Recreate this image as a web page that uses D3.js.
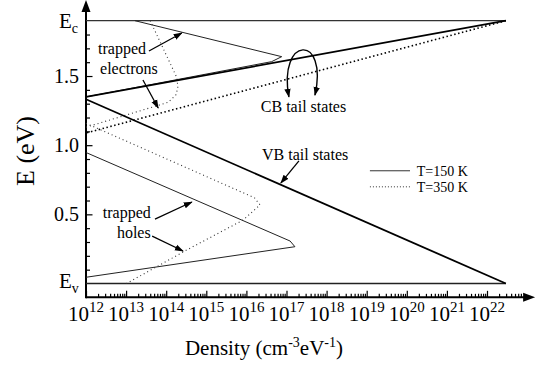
<!DOCTYPE html>
<html><head><meta charset="utf-8">
<script src="https://cdn.jsdelivr.net/npm/d3@7"></script>
<style>
body{margin:0;background:#fff}
</style>
</head><body>
<svg id="chart" width="538" height="369"></svg>
<script>
// ---------- data (log10 density in cm^-3 eV^-1, energy in eV) ----------
const Ec = 1.9, Ev = 0.0;
const edgeLog = [12, 22.47];
const cbTail150Log = [22.47, 12.0];           const cbTail150E = [1.90, 1.349];
const cbTail350Log = [22.47, 12.0];           const cbTail350E = [1.90, 1.088];
const vbTailLog    = [22.47, 12.0];           const vbTailE    = [0.00, 1.332];
const trapE150Log  = [13.22, 16.88, 16.63, 12.0];              const trapE150E = [1.90, 1.640, 1.604, 1.349];
const trapE350Log  = [13.60, 14.27, 14.29, 14.24, 14.05, 12.0]; const trapE350E = [1.90, 1.486, 1.414, 1.363, 1.310, 1.130];
const trapH150Log  = [12.0, 17.09, 17.21, 12.0];               const trapH150E = [0.947, 0.307, 0.266, 0.045];
const trapH350Log  = [12.0, 16.20, 16.34, 15.92, 14.51, 13.01]; const trapH350E = [1.158, 0.620, 0.568, 0.459, 0.242, 0.000];
const xTickExps = [12,13,14,15,16,17,18,19,20,21,22];
const yTicks = [0.5, 1.0, 1.5];
const yTickLabels = ["0.5", "1.0", "1.5"];
const legendLabels = ["T=150 K", "T=350 K"];

const FONT = "'Liberation Serif', 'Times New Roman', Times, Tinos, 'Noto Serif', 'DejaVu Serif', FreeSerif, serif";

// ---------- scales ----------
const svg = d3.select("#chart");
const x = d3.scaleLog().domain([1e12, 1e22]).range([86, 487]);
const y = d3.scaleLinear().domain([0, 1.9]).range([283.5, 20.7]);
const P = (L, E) => [x(Math.pow(10, L)), y(E)];
const xAxisY = y(-0.1), xEnd = x(Math.pow(10, 23.2));

const defs = svg.append("defs");
defs.append("marker").attr("id", "ah").attr("viewBox", "0 0 10 10").attr("refX", 9).attr("refY", 5)
  .attr("markerWidth", 9).attr("markerHeight", 9).attr("markerUnits", "userSpaceOnUse")
  .attr("orient", "auto-start-reverse")
  .append("path").attr("d", "M0,1.5 L10,5 L0,8.5 Z").attr("fill", "#000");

// ---------- axes ----------
const minorX = [];
for (let n = 12; n <= 22; n++) for (let k = 2; k <= 9; k++) { const v = k * Math.pow(10, n); if (v < Math.pow(10, 22.9)) minorX.push(v); }
const gx = svg.append("g").attr("transform", `translate(0,${xAxisY})`);
gx.call(d3.axisBottom(x).tickValues(minorX).tickSize(-3.5).tickFormat(""));
gx.call(g => g.select(".domain").remove());
const gx2 = svg.append("g").attr("transform", `translate(0,${xAxisY})`);
gx2.call(d3.axisBottom(x).tickValues(xTickExps.map(e => Math.pow(10, e))).tickSize(-6.5).tickFormat(""));
gx2.call(g => g.select(".domain").remove());

const minorY = d3.range(1, 19).map(i => i / 10).filter(v => Math.abs(v * 2 - Math.round(v * 2)) > 1e-6);
const gy = svg.append("g").attr("transform", `translate(86,0)`);
gy.call(d3.axisLeft(y).tickValues(minorY).tickSize(-4).tickFormat(""));
gy.call(g => g.select(".domain").remove());
const gy2 = svg.append("g").attr("transform", `translate(86,0)`);
gy2.call(d3.axisLeft(y).tickValues(yTicks).tickSize(-6.5).tickFormat(""));
gy2.call(g => g.select(".domain").remove());
svg.selectAll(".tick line").attr("stroke", "#000").attr("stroke-width", 1.2);

svg.append("line").attr("x1", 86).attr("y1", xAxisY).attr("x2", xEnd - 10).attr("y2", xAxisY)
  .attr("stroke", "#000").attr("stroke-width", 2);
svg.append("path").attr("d", `M${xEnd},${xAxisY} L${xEnd - 12},${xAxisY - 4.5} L${xEnd - 12},${xAxisY + 4.5} Z`).attr("fill", "#000");
svg.append("line").attr("x1", 86).attr("y1", xAxisY + 1).attr("x2", 86).attr("y2", 10)
  .attr("stroke", "#000").attr("stroke-width", 2);
svg.append("path").attr("d", `M86,0 L81.5,12 L90.5,12 Z`).attr("fill", "#000");

const T = sel => sel.append("text").style("font-family", FONT).attr("fill", "#000");

// tick labels
xTickExps.forEach(e => {
  const t = T(svg).attr("x", x(Math.pow(10, e))).attr("y", xAxisY + 24)
    .attr("text-anchor", "middle").attr("font-size", 21);
  t.append("tspan").text("10");
  t.append("tspan").attr("font-size", 15).attr("dy", -9).text(e);
});
yTicks.forEach((v, i) => {
  T(svg).attr("x", 79).attr("y", y(v) + 7).attr("text-anchor", "end")
    .attr("font-size", 20).text(yTickLabels[i]);
});
[[Ec, "c"], [Ev, "v"]].forEach(([v, s]) => {
  const t = T(svg).attr("x", 59).attr("y", y(v) + (s === "c" ? 7 : 4)).attr("font-size", 21);
  t.append("tspan").text("E");
  t.append("tspan").attr("font-size", 14).attr("dy", 5).text(s);
});

// axis titles
const xt = T(svg).attr("x", 264).attr("y", 355).attr("text-anchor", "middle").attr("font-size", 21);
xt.append("tspan").text("Density (cm");
xt.append("tspan").attr("font-size", 14).attr("dy", -8).text("-3");
xt.append("tspan").attr("dy", 8).text("eV");
xt.append("tspan").attr("font-size", 14).attr("dy", -8).text("-1");
xt.append("tspan").attr("dy", 8).text(")");
T(svg).attr("transform", "translate(34,151) rotate(-90)").attr("text-anchor", "middle")
  .attr("font-size", 26).text("E (eV)");

// ---------- data lines ----------
const line = d3.line().x(d => d[0]).y(d => d[1]);
const pts = (Ls, Es) => Ls.map((L, i) => P(L, Es[i]));
svg.append("path").attr("d", line(pts(edgeLog, [Ec, Ec]))).attr("fill", "none").attr("stroke", "#333").attr("stroke-width", 1.2);
svg.append("path").attr("d", line(pts(edgeLog, [Ev, Ev]))).attr("fill", "none").attr("stroke", "#222").attr("stroke-width", 1.5);

const series = [
  { L: trapE150Log, E: trapE150E, w: 1.0, dash: null, c: "#222" },
  { L: trapH150Log, E: trapH150E, w: 1.0, dash: null, c: "#222" },
  { L: trapE350Log, E: trapE350E, w: 1.1, dash: "1,3", c: "#333" },
  { L: trapH350Log, E: trapH350E, w: 1.1, dash: "1,3", c: "#333" },
  { L: cbTail350Log, E: cbTail350E, w: 1.6, dash: "1.5,2.5", c: "#000" },
  { L: cbTail150Log, E: cbTail150E, w: 1.8, dash: null, c: "#000" },
  { L: vbTailLog, E: vbTailE, w: 1.8, dash: null, c: "#000" }
];
series.forEach(s => {
  svg.append("path").attr("d", line(pts(s.L, s.E))).attr("fill", "none")
    .attr("stroke", s.c).attr("stroke-width", s.w).attr("stroke-dasharray", s.dash)
    .attr("stroke-linejoin", "round");
});

// ---------- annotations ----------
function txt(L, E, s, size) {
  const [px, py] = P(L, E);
  return T(svg).attr("x", px).attr("y", py).attr("font-size", size || 16).text(s);
}
function arrow(L1, E1, L2, E2) {
  svg.append("path").attr("d", line([P(L1, E1), P(L2, E2)])).attr("stroke", "#000")
    .attr("stroke-width", 1.3).attr("fill", "none").attr("marker-end", "url(#ah)");
}
txt(12.30, 1.660, "trapped");
txt(12.35, 1.515, "electrons");
arrow(13.57, 1.681, 14.39, 1.811);
arrow(13.42, 1.471, 13.80, 1.269);
txt(16.36, 1.240, "CB tail states");
const a = P(17.06, 1.349), c1 = P(16.78, 1.79), c2 = P(18.05, 1.81), b = P(17.71, 1.362);
svg.append("path").attr("d", `M${a[0]},${a[1]} C${c1[0]},${c1[1]} ${c2[0]},${c2[1]} ${b[0]},${b[1]}`)
  .attr("fill", "none").attr("stroke", "#000").attr("stroke-width", 1.4)
  .attr("marker-start", "url(#ah)").attr("marker-end", "url(#ah)");
txt(16.39, 0.893, "VB tail states");
arrow(17.31, 0.886, 16.86, 0.727);
txt(12.42, 0.474, "trapped");
txt(12.77, 0.329, "holes");
arrow(13.72, 0.466, 14.64, 0.589);
arrow(13.65, 0.343, 14.42, 0.235);

// legend
[[0.815, null], [0.699, "1,2"]].forEach(([E, dash], i) => {
  svg.append("path").attr("d", line([P(19.08, E), P(20.08, E)])).attr("stroke", "#333")
    .attr("stroke-width", 1).attr("stroke-dasharray", dash).attr("fill", "none");
  txt(20.25, E - 0.035, legendLabels[i], 14);
});
</script>
</body></html>
